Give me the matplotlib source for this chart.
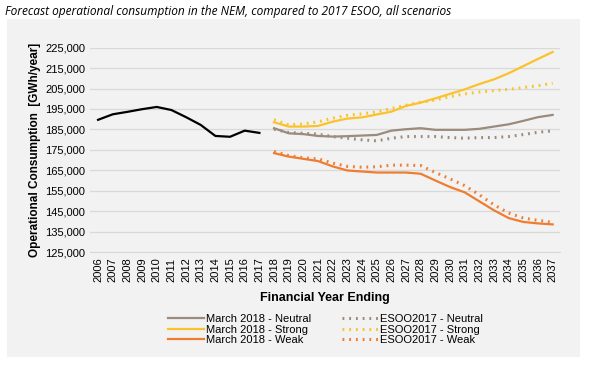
import numpy as np
import matplotlib.pyplot as plt
from matplotlib.patches import Rectangle
from matplotlib.ticker import FuncFormatter

plt.rcParams['font.family'] = ['Liberation Sans', 'DejaVu Sans']

# ---------------- data ----------------
hist_years = list(range(2006, 2018))
hist_vals = [189.7, 192.4, 193.6, 194.9, 196.0, 194.5, 191.0, 187.2, 181.8, 181.4, 184.4, 183.3]

fc_years = list(range(2018, 2038))
mar_neutral = [185.6, 183.1, 182.7, 181.8, 181.5, 181.7, 182.0, 182.3, 184.4, 185.1,
               185.6, 184.8, 184.8, 184.8, 185.3, 186.4, 187.5, 189.2, 191.0, 192.1]
mar_strong = [188.5, 186.4, 186.4, 186.7, 188.8, 190.3, 190.9, 192.3, 193.7, 196.5,
              198.1, 200.2, 202.4, 204.6, 207.2, 209.5, 212.5, 216.0, 219.5, 222.9]
mar_weak = [173.4, 171.7, 170.6, 169.5, 166.9, 164.9, 164.4, 163.9, 163.9, 163.9,
            163.3, 160.0, 156.8, 154.2, 149.8, 145.4, 141.6, 139.7, 139.0, 138.5]
esoo_neutral = [185.1, 183.5, 183.1, 182.7, 181.5, 180.7, 179.9, 179.4, 180.7, 181.5,
                181.5, 181.5, 181.0, 180.7, 181.0, 181.0, 181.5, 182.5, 183.6, 184.3]
esoo_strong = [189.7, 187.2, 187.7, 188.7, 190.5, 191.9, 192.6, 193.6, 195.2, 196.8,
               198.3, 199.4, 201.1, 202.4, 203.3, 204.0, 204.6, 205.5, 206.4, 207.6]
esoo_weak = [174.2, 172.2, 171.1, 170.6, 168.5, 166.9, 166.5, 166.7, 167.5, 167.5,
             167.3, 163.9, 160.8, 157.5, 153.0, 148.1, 144.1, 141.6, 140.5, 139.5]

all_years = list(range(2006, 2038))
y_ticks = list(range(125000, 225001, 10000))

# colours
c_neutral = '#9b8b7c'
c_strong = '#fac22b'
c_weak = '#ee7d31'
bg = '#f2f2f2'

fig = plt.figure(figsize=(5.89, 3.69), dpi=100, facecolor='white')
fig.patches.append(Rectangle((7/589, 12/369), 573/589, 338/369, transform=fig.transFigure,
                             facecolor=bg, edgecolor='none', zorder=-10))
fig.text(5/589, 1 - 12/369, 'Forecast operational consumption in the NEM, compared to 2017 ESOO, all scenarios',
         fontsize=8.6, style='italic', family=['Open Sans', 'DejaVu Sans'], va='center', ha='left')

ax = fig.add_axes([90/589, 1 - 252/369, 470/589, 204.3/369])
ax.set_facecolor(bg)

k = lambda v: [x * 1000 for x in v]
lw = 1.6
ax.plot(hist_years, k(hist_vals), color='black', lw=lw)
l1, = ax.plot(fc_years, k(mar_neutral), color=c_neutral, lw=lw)
l2, = ax.plot(fc_years, k(mar_strong), color=c_strong, lw=lw)
l3, = ax.plot(fc_years, k(mar_weak), color=c_weak, lw=lw)
d1, = ax.plot(fc_years, k(esoo_neutral), color=c_neutral, lw=2.2, ls=(0, (0.6, 1.6)), dash_capstyle='butt')
d2, = ax.plot(fc_years, k(esoo_strong), color=c_strong, lw=2.2, ls=(0, (0.6, 1.6)), dash_capstyle='butt')
d3, = ax.plot(fc_years, k(esoo_weak), color=c_weak, lw=2.2, ls=(0, (0.6, 1.6)), dash_capstyle='butt')

ax.set_xlim(2005.45, 2037.5)
ax.set_ylim(125000, 225000)
ax.set_yticks(y_ticks)
ax.yaxis.set_major_formatter(FuncFormatter(lambda v, p: f'{int(v):,}'))
ax.set_xticks(all_years)
ax.set_xticklabels([str(y) for y in all_years], rotation=90)
ax.tick_params(axis='both', length=0, labelsize=8, colors='black')
ax.tick_params(axis='x', pad=4)
ax.grid(axis='y', color='#d9d9d9', lw=0.9)
ax.set_axisbelow(True)
for s in ['top', 'right', 'left']:
    ax.spines[s].set_visible(False)
ax.spines['bottom'].set_color('#d9d9d9')

ax.set_xlabel('Financial Year Ending', fontsize=9, fontweight='bold', labelpad=7)
ax.set_ylabel('Operational Consumption  [GWh/year]', fontsize=8.5, fontweight='bold', labelpad=3)

ax.legend([l1, l2, l3, d1, d2, d3],
          ['March 2018 - Neutral', 'March 2018 - Strong', 'March 2018 - Weak',
           'ESOO2017 - Neutral', 'ESOO2017 - Strong', 'ESOO2017 - Weak'],
          ncol=2, frameon=False, fontsize=8, loc='upper left',
          bbox_to_anchor=(158/589, 1 - 304/369), bbox_transform=fig.transFigure,
          handlelength=3.2, handletextpad=0.2, columnspacing=2.8, labelspacing=0.05)

fig.savefig('out.png', dpi=100, facecolor='white')
